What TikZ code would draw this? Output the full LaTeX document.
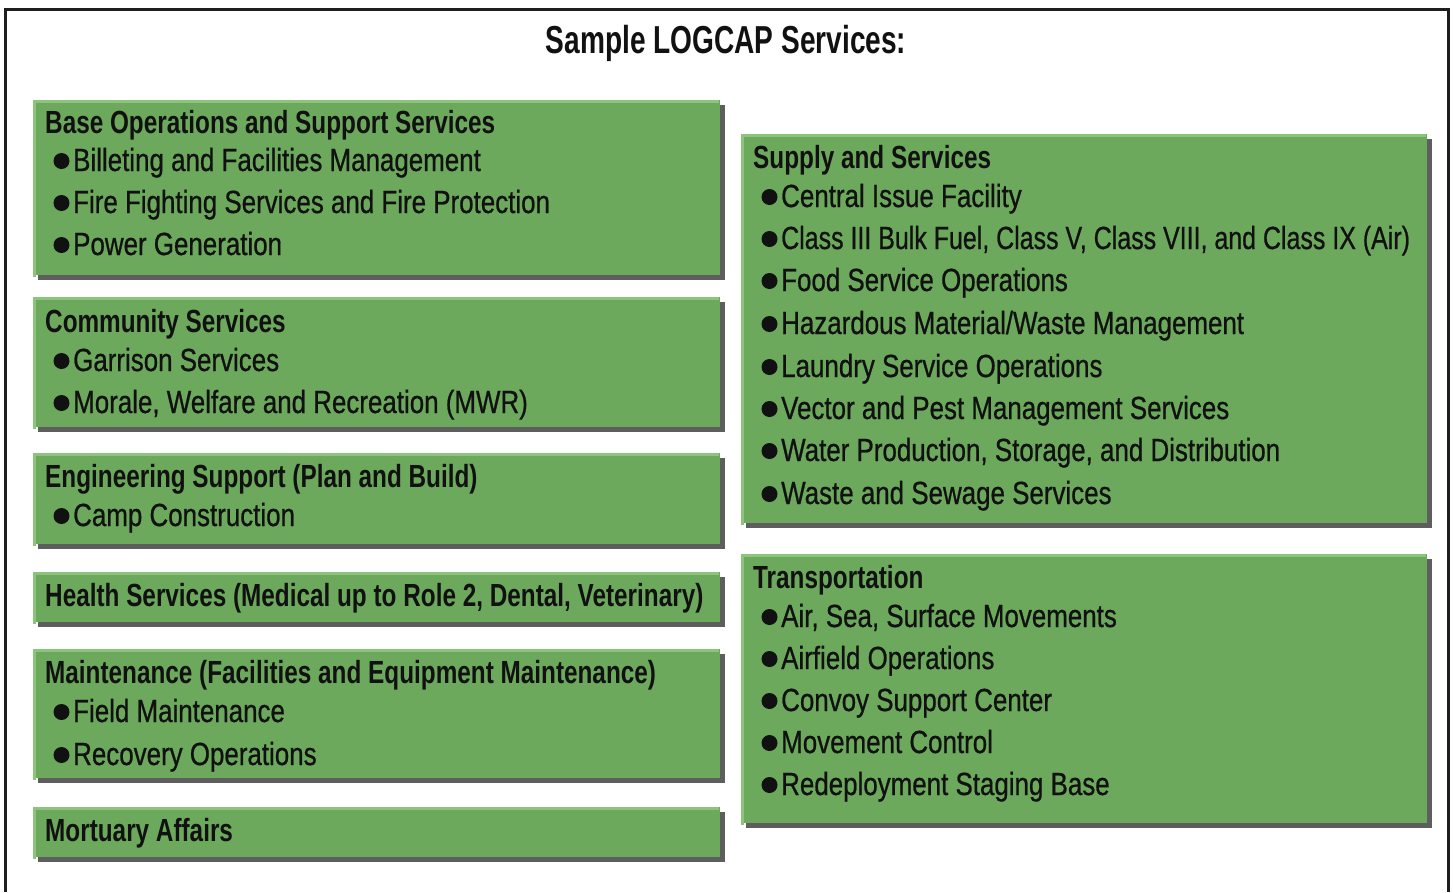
\documentclass[tikz,border=0pt]{standalone}
\usepackage{fontspec}
\usetikzlibrary{shadows}
\newfontfamily\hfont[FakeStretch=0.76]{Liberation Sans Bold}
\newfontfamily\tfont[FakeStretch=0.72]{Liberation Sans Bold}
\newfontfamily\ifont[FakeStretch=0.81,FakeBold=0.7]{Liberation Sans}
\newfontfamily\ifontn[FakeStretch=0.78,FakeBold=0.7]{Liberation Sans}
\definecolor{boxgreen}{HTML}{6CA95C}
\definecolor{boxlight}{HTML}{8CC47C}
\definecolor{shadowgray}{HTML}{5E5E5E}
\definecolor{frameblack}{HTML}{1E1E1E}
\definecolor{txt}{HTML}{111111}
\tikzset{
  panel/.style={rectangle, inner sep=0pt, anchor=north west, fill=boxgreen,
    drop shadow={shadow xshift=5pt, shadow yshift=-5pt, fill=shadowgray, opacity=1}},
  hilite/.style={draw=boxlight, line width=3pt},
  hdr/.style={anchor=base west, inner sep=0pt, text=txt, font=\hfont\fontsize{32}{36}\selectfont},
  itm/.style={anchor=base west, inner sep=0pt, text=txt, font=\ifont\fontsize{32}{36}\selectfont},
  itmn/.style={itm, font=\ifontn\fontsize{32}{36}\selectfont},
  ttl/.style={anchor=base, inner sep=0pt, text=txt, font=\tfont\fontsize{39}{44}\selectfont},
  bul/.style={fill=txt}
}
\newcommand{\mkpanel}[5]{% name, x, y, w, h
  \node[panel, minimum width=#4pt, minimum height=#5pt] (#1) at (#2,#3) {};
  \draw[hilite] ([yshift=-1.5pt,xshift=1.5pt]#1.south west) |- ([xshift=-1.5pt,yshift=-1.5pt]#1.north east);
}
\newcommand{\mkitem}[5][itm]{% style, name, x (bullet centre), baseline, text
  \fill[bul] (#3,#4-10) circle (8pt);
  \node[#1] (#2) at (#3+11.5,#4) {#5};
}
\begin{document}
\begin{tikzpicture}[x=1pt,y=-1pt]
\useasboundingbox (0,0) rectangle (1453,892);
\fill[white] (0,0) rectangle (1453,892);
\draw[frameblack, line width=3.5pt] (5.5,892) |- (1448.5,9.5) -- (1448.5,892);
\node[ttl] (title) at (726,53) {Sample LOGCAP Services:};

% left column
\mkpanel{b1}{33}{100}{687}{175}
\node[hdr] (b1h) at (45,133) {Base Operations and Support Services};
\mkitem{b1a}{61.5}{171}{Billeting and Facilities Management}
\mkitem{b1b}{61.5}{213}{Fire Fighting Services and Fire Protection}
\mkitem{b1c}{61.5}{255}{Power Generation}

\mkpanel{b2}{33}{297}{687}{130}
\node[hdr] (b2h) at (45,332) {Community Services};
\mkitem{b2a}{61.5}{371}{Garrison Services}
\mkitem{b2b}{61.5}{413}{Morale, Welfare and Recreation (MWR)}

\mkpanel{b3}{33}{453}{687}{91}
\node[hdr] (b3h) at (45,487) {Engineering Support (Plan and Build)};
\mkitem{b3a}{61.5}{526}{Camp Construction}

\mkpanel{b4}{33}{572}{687}{50}
\node[hdr] (b4h) at (45,606) {Health Services (Medical up to Role 2, Dental, Veterinary)};

\mkpanel{b5}{33}{649}{687}{129}
\node[hdr] (b5h) at (45,683) {Maintenance (Facilities and Equipment Maintenance)};
\mkitem{b5a}{61.5}{722}{Field Maintenance}
\mkitem{b5b}{61.5}{765}{Recovery Operations}

\mkpanel{b6}{33}{807}{687}{50}
\node[hdr] (b6h) at (45,841) {Mortuary Affairs};

% right column
\mkpanel{b7}{741}{134}{686}{389}
\node[hdr] (b7h) at (753,168) {Supply and Services};
\mkitem{b7a}{769.5}{207}{Central Issue Facility}
\mkitem[itmn]{b7b}{769.5}{249}{Class III Bulk Fuel, Class V, Class VIII, and Class IX (Air)}
\mkitem{b7c}{769.5}{291}{Food Service Operations}
\mkitem{b7d}{769.5}{334}{Hazardous Material/Waste Management}
\mkitem{b7e}{769.5}{377}{Laundry Service Operations}
\mkitem{b7f}{769.5}{419}{Vector and Pest Management Services}
\mkitem{b7g}{769.5}{461}{Water Production, Storage, and Distribution}
\mkitem{b7h}{769.5}{504}{Waste and Sewage Services}

\mkpanel{b8}{741}{554}{686}{269}
\node[hdr] (b8h) at (753,588) {Transportation};
\mkitem{b8a}{769.5}{627}{Air, Sea, Surface Movements}
\mkitem{b8b}{769.5}{669}{Airfield Operations}
\mkitem{b8c}{769.5}{711}{Convoy Support Center}
\mkitem{b8d}{769.5}{753}{Movement Control}
\mkitem{b8e}{769.5}{795}{Redeployment Staging Base}
\end{tikzpicture}
\end{document}
